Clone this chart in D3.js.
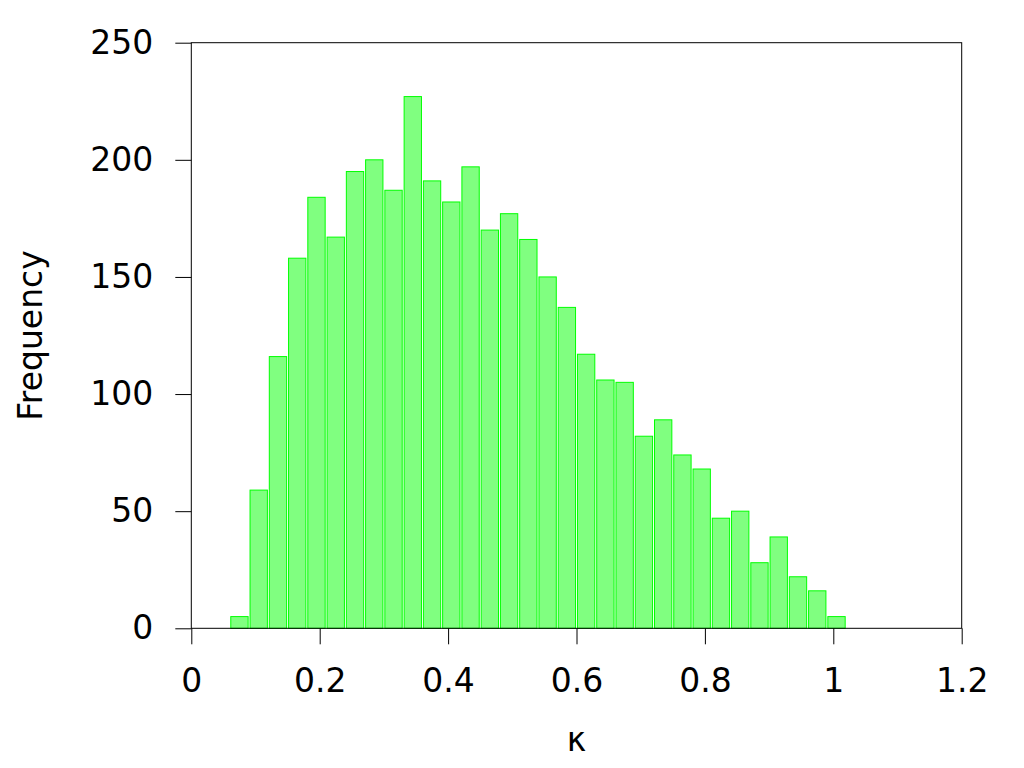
<!DOCTYPE html>
<html>
<head>
<meta charset="utf-8">
<script src="https://cdn.jsdelivr.net/npm/d3@7"></script>
<style>
    body { margin: 0; background: #fff; }
    text { font-family: "DejaVu Sans", sans-serif; }
</style>
</head>
<body>
<svg id="chart" width="1024" height="768"></svg>
<script>
// histogram bins of kappa (centers, width 0.03)
var binCenters = [0.075, 0.105, 0.135, 0.165, 0.195, 0.225, 0.255, 0.285, 0.315, 0.345,
                  0.375, 0.405, 0.435, 0.465, 0.495, 0.525, 0.555, 0.585, 0.615, 0.645,
                  0.675, 0.705, 0.735, 0.765, 0.795, 0.825, 0.855, 0.885, 0.915, 0.945,
                  0.975, 1.005];
var binWidth = 0.03;
var counts = [5, 59, 116, 158, 184, 167, 195, 200, 187, 227,
              191, 182, 197, 170, 177, 166, 150, 137, 117, 106,
              105, 82, 89, 74, 68, 47, 50, 28, 39, 22,
              16, 5];
var xTicks = [0, 0.2, 0.4, 0.6, 0.8, 1, 1.2];
var yTicks = [0, 50, 100, 150, 200, 250];

var svg = d3.select("#chart");
var left = 191.3, right = 961.7, top_margin = 42.7, bottom = 628.3;

var x = d3.scaleLinear().domain([0, 1.2]).range([left, right]);
var y = d3.scaleLinear().domain([0, 250]).range([bottom, top_margin]);

// bars
svg.append("g")
    .selectAll("rect")
    .data(counts)
    .enter()
    .append("rect")
    .attr("x", function(d, i) { return x(binCenters[i] - binWidth * 0.45); })
    .attr("width", function(d, i) { return x(binCenters[i] + binWidth * 0.45) - x(binCenters[i] - binWidth * 0.45); })
    .attr("y", function(d) { return y(d); })
    .attr("height", function(d) { return y(0) - y(d); })
    .style("fill", "#80ff80")
    .style("stroke", "#00ff00")
    .style("stroke-width", 1);

// frame
svg.append("rect")
    .attr("x", left)
    .attr("y", top_margin)
    .attr("width", right - left)
    .attr("height", bottom - top_margin)
    .style("fill", "none")
    .style("stroke", "#000")
    .style("stroke-width", 1);

var xAxis = svg.append("g")
    .attr("transform", "translate(0," + bottom + ")")
    .call(d3.axisBottom(x)
        .tickValues(xTicks)
        .tickFormat(d3.format("~g"))
        .tickSizeInner(16)
        .tickSizeOuter(0)
        .tickPadding(24));

var yAxis = svg.append("g")
    .attr("transform", "translate(" + left + ",0)")
    .call(d3.axisLeft(y)
        .tickValues(yTicks)
        .tickSizeInner(16)
        .tickSizeOuter(0)
        .tickPadding(22));

[xAxis, yAxis].forEach(function(a) {
    a.select(".domain").remove();
    a.selectAll("line").style("stroke", "#000");
    a.selectAll("text")
        .style("font-family", "DejaVu Sans")
        .style("font-size", "33px")
        .style("fill", "#000");
});

// axis titles
svg.append("text")
    .attr("x", (left + right) / 2)
    .attr("y", 751)
    .style("text-anchor", "middle")
    .style("font-size", "33px")
    .text("κ");

svg.append("text")
    .attr("transform", "translate(42," + ((top_margin + bottom) / 2) + ") rotate(-90)")
    .style("text-anchor", "middle")
    .style("font-size", "33px")
    .text("Frequency");
</script>
</body>
</html>
